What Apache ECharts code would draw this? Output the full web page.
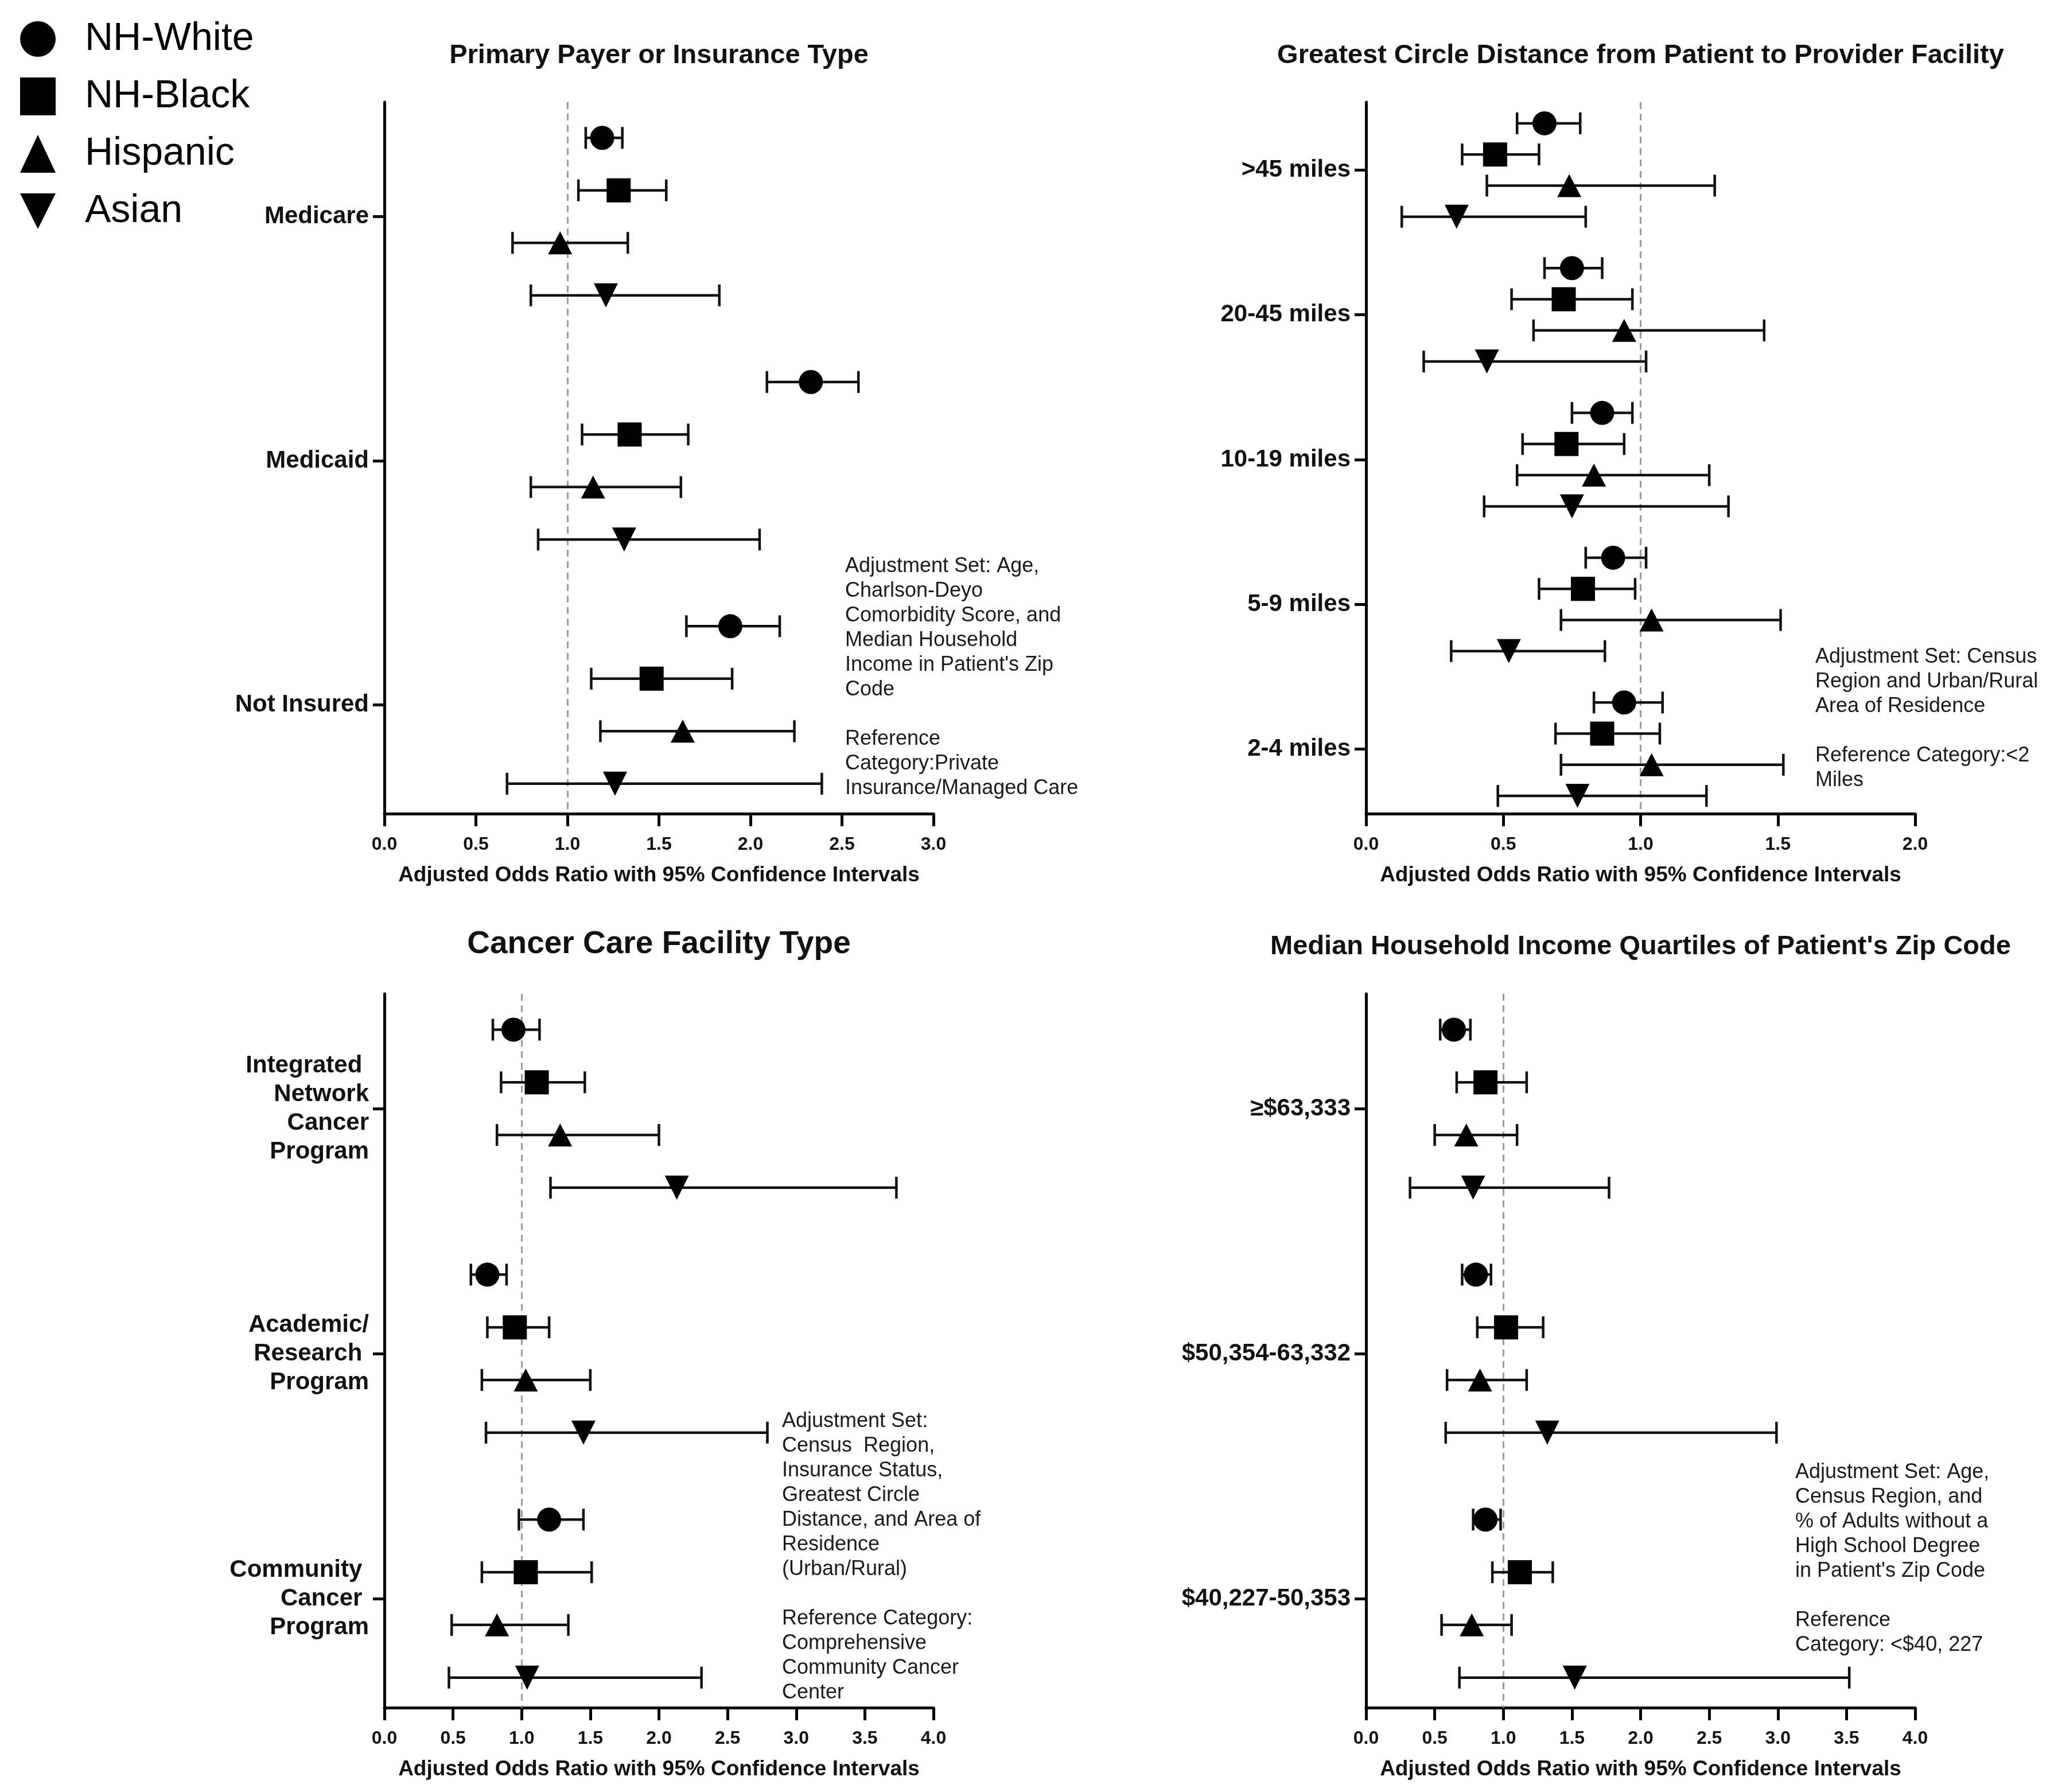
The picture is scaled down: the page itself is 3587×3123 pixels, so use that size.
<!DOCTYPE html>
<html>
<head>
<meta charset="utf-8">
<title>Adjusted odds ratios by race/ethnicity</title>
<script src="https://cdn.jsdelivr.net/npm/echarts@6.0.0/dist/echarts.min.js"></script>
<style>
  html, body { margin: 0; padding: 0; background: #fff; }
  #chart { width: 3587px; height: 3123px; }
</style>
</head>
<body>
<div id="chart"></div>
<script>
// each row: [odds ratio, lower 95% CI, upper 95% CI]
var races = ['NH-White', 'NH-Black', 'Hispanic', 'Asian'];

var payerCats = ['Medicare', 'Medicaid', 'Not Insured'];
var payerWhite    = [[1.19, 1.10, 1.30], [2.33, 2.09, 2.59], [1.89, 1.65, 2.16]];
var payerBlack    = [[1.28, 1.06, 1.54], [1.34, 1.08, 1.66], [1.46, 1.13, 1.90]];
var payerHispanic = [[0.96, 0.70, 1.33], [1.14, 0.80, 1.62], [1.63, 1.18, 2.24]];
var payerAsian    = [[1.21, 0.80, 1.83], [1.31, 0.84, 2.05], [1.26, 0.67, 2.39]];

var distCats = ['>45 miles', '20-45 miles', '10-19 miles', '5-9 miles', '2-4 miles'];
var distWhite    = [[0.65, 0.55, 0.78], [0.75, 0.65, 0.86], [0.86, 0.75, 0.97], [0.90, 0.80, 1.02], [0.94, 0.83, 1.08]];
var distBlack    = [[0.47, 0.35, 0.63], [0.72, 0.53, 0.97], [0.73, 0.57, 0.94], [0.79, 0.63, 0.98], [0.86, 0.69, 1.07]];
var distHispanic = [[0.74, 0.44, 1.27], [0.94, 0.61, 1.45], [0.83, 0.55, 1.25], [1.04, 0.71, 1.51], [1.04, 0.71, 1.52]];
var distAsian    = [[0.33, 0.13, 0.80], [0.44, 0.21, 1.02], [0.75, 0.43, 1.32], [0.52, 0.31, 0.87], [0.77, 0.48, 1.24]];

var facCats = ['Integrated \nNetwork\nCancer\nProgram', 'Academic/\nResearch \nProgram', 'Community \nCancer \nProgram'];
var facWhite    = [[0.94, 0.79, 1.13], [0.75, 0.63, 0.89], [1.20, 0.98, 1.45]];
var facBlack    = [[1.11, 0.85, 1.46], [0.95, 0.75, 1.20], [1.03, 0.71, 1.51]];
var facHispanic = [[1.28, 0.82, 2.00], [1.03, 0.71, 1.50], [0.82, 0.49, 1.34]];
var facAsian    = [[2.13, 1.21, 3.73], [1.45, 0.74, 2.79], [1.04, 0.47, 2.31]];

var incCats = ['\u2265$63,333', '$50,354-63,332', '$40,227-50,353'];
var incWhite    = [[0.64, 0.54, 0.76], [0.80, 0.70, 0.91], [0.87, 0.78, 0.98]];
var incBlack    = [[0.87, 0.66, 1.17], [1.02, 0.81, 1.29], [1.12, 0.92, 1.36]];
var incHispanic = [[0.73, 0.50, 1.10], [0.83, 0.59, 1.17], [0.77, 0.55, 1.06]];
var incAsian    = [[0.78, 0.32, 1.77], [1.32, 0.58, 2.99], [1.52, 0.68, 3.52]];

var FONT = '"Liberation Sans", Arial, Helvetica, sans-serif';
var GAP = 4.65;       // distance between category groups, in row units
var PAD_TOP = 2.18;
var PAD_BOT = 2.07;

var panels = [
    {title: 'Primary Payer or Insurance Type', titleSize: 47, titleTop: 74,
     cats: payerCats, rows: [payerWhite, payerBlack, payerHispanic, payerAsian], xMax: 3,
     grid: {left: 670, top: 178, width: 957, height: 1240}},
    {title: 'Greatest Circle Distance from Patient to Provider Facility', titleSize: 47, titleTop: 74,
     cats: distCats, rows: [distWhite, distBlack, distHispanic, distAsian], xMax: 2,
     grid: {left: 2381, top: 178, width: 957, height: 1240}},
    {title: 'Cancer Care Facility Type', titleSize: 55, titleTop: 1618,
     cats: facCats, rows: [facWhite, facBlack, facHispanic, facAsian], xMax: 4,
     grid: {left: 670, top: 1732, width: 957, height: 1244}},
    {title: "Median Household Income Quartiles of Patient's Zip Code", titleSize: 47, titleTop: 1627,
     cats: incCats, rows: [incWhite, incBlack, incHispanic, incAsian], xMax: 4,
     grid: {left: 2381, top: 1732, width: 957, height: 1244}}
];

var notes = [
    {x: 1473, y: 966, text: "Adjustment Set: Age,\nCharlson-Deyo\nComorbidity Score, and\nMedian Household\nIncome in Patient's Zip\nCode\n\nReference\nCategory:Private\nInsurance/Managed Care"},
    {x: 3164, y: 1124, text: 'Adjustment Set: Census\nRegion and Urban/Rural\nArea of Residence\n\nReference Category:<2\nMiles'},
    {x: 1363, y: 2456, text: 'Adjustment Set:\nCensus  Region,\nInsurance Status,\nGreatest Circle\nDistance, and Area of\nResidence\n(Urban/Rural)\n\nReference Category:\nComprehensive\nCommunity Cancer\nCenter'},
    {x: 3129, y: 2545, text: "Adjustment Set: Age,\nCensus Region, and\n% of Adults without a\nHigh School Degree\nin Patient's Zip Code\n\nReference\nCategory: <$40, 227"}
];

var shapes = ['circle', 'rect', 'triangle', 'path://M0,0L10,0L5,10Z'];
var sizes = [42, 42, [42, 40], [42, 42]];

function errorBar(params, api) {
    var y = api.value(2);
    var a = api.coord([api.value(0), y]);
    var b = api.coord([api.value(1), y]);
    var cap = 19;
    var st = {stroke: '#111', lineWidth: 4.5};
    return {
        type: 'group',
        children: [
            {type: 'line', shape: {x1: a[0], y1: a[1], x2: b[0], y2: b[1]}, style: st},
            {type: 'line', shape: {x1: a[0], y1: a[1] - cap, x2: a[0], y2: a[1] + cap}, style: st},
            {type: 'line', shape: {x1: b[0], y1: b[1] - cap, x2: b[0], y2: b[1] + cap}, style: st}
        ]
    };
}

var grids = [], xAxes = [], yAxes = [], series = [], titles = [];

panels.forEach(function (p, i) {
    var centers = p.cats.map(function (c, g) { return g * GAP; });
    grids.push(p.grid);
    titles.push({
        text: p.title, left: p.grid.left + p.grid.width / 2, top: p.titleTop, textAlign: 'center', padding: 0,
        textStyle: {fontSize: p.titleSize, fontWeight: 'bold', color: '#111', fontFamily: FONT}
    });
    xAxes.push({
        gridIndex: i, type: 'value', min: 0, max: p.xMax, interval: 0.5,
        axisLine: {show: true, onZero: false, lineStyle: {color: '#000', width: 5}},
        axisTick: {show: true, length: 22, lineStyle: {color: '#000', width: 5}},
        axisLabel: {fontSize: 32, fontWeight: 'bold', color: '#111', fontFamily: FONT, margin: 38,
                    formatter: function (v) { return v.toFixed(1); }},
        splitLine: {show: false},
        name: 'Adjusted Odds Ratio with 95% Confidence Intervals',
        nameLocation: 'middle', nameGap: 89,
        nameTextStyle: {fontSize: 37, fontWeight: 'bold', color: '#111', fontFamily: FONT}
    });
    yAxes.push({
        gridIndex: i, type: 'value', inverse: true,
        min: -PAD_TOP, max: (p.cats.length - 1) * GAP + PAD_BOT,
        axisLine: {show: true, onZero: false, lineStyle: {color: '#000', width: 5}},
        axisTick: {show: true, customValues: centers, length: 20, lineStyle: {color: '#000', width: 5}},
        axisLabel: {customValues: centers, fontSize: 42, fontWeight: 'bold', color: '#111', fontFamily: FONT,
                    lineHeight: 50, margin: 27, align: 'right',
                    formatter: function (v) { return p.cats[Math.round(v / GAP)]; }},
        splitLine: {show: false}
    });
    p.rows.forEach(function (rows, s) {
        var bar = {
            name: races[s], type: 'custom', xAxisIndex: i, yAxisIndex: i, z: 2, silent: true,
            renderItem: errorBar,
            encode: {x: [0, 1], y: 2},
            data: rows.map(function (d, g) { return [d[1], d[2], g * GAP + s - 1.5]; })
        };
        if (s === 0) {
            bar.markLine = {
                silent: true, symbol: 'none', z: 1, animation: false,
                label: {show: false},
                lineStyle: {type: [12, 8], color: '#9a9a9a', width: 3},
                data: [{xAxis: 1}]
            };
        }
        series.push(bar);
        series.push({
            name: races[s], type: 'scatter', xAxisIndex: i, yAxisIndex: i, z: 3, silent: true,
            symbol: shapes[s], symbolSize: sizes[s],
            itemStyle: {color: '#000', opacity: 1},
            data: rows.map(function (d, g) { return [d[0], g * GAP + s - 1.5]; })
        });
    });
});

var option = {
    backgroundColor: '#fff',
    animation: false,
    title: titles,
    legend: {
        orient: 'vertical', left: 30, top: 29,
        itemWidth: 62, itemHeight: 66, itemGap: 32,
        data: races.map(function (r, i) { return {name: r, icon: shapes[i]}; }),
        itemStyle: {color: '#000'},
        textStyle: {fontSize: 68, color: '#000', fontFamily: FONT, padding: [0, 0, 0, 46]}
    },
    grid: grids,
    xAxis: xAxes,
    yAxis: yAxes,
    series: series,
    graphic: notes.map(function (n) {
        return {
            type: 'text', x: n.x, y: n.y, silent: true,
            style: {text: n.text, fontSize: 36, fontFamily: FONT, lineHeight: 43, fill: '#1a1a1a', verticalAlign: 'top'}
        };
    })
};

var myChart = echarts.init(document.getElementById('chart'));
myChart.setOption(option);
</script>
</body>
</html>
